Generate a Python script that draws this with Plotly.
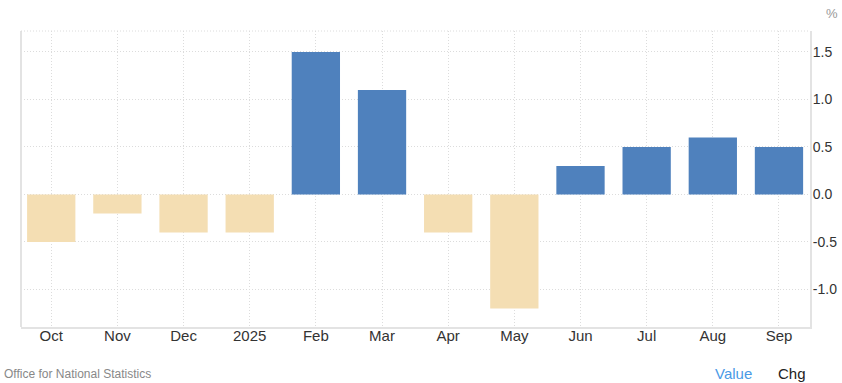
import plotly.graph_objects as go

categories = ["Oct", "Nov", "Dec", "2025", "Feb", "Mar", "Apr", "May", "Jun", "Jul", "Aug", "Sep"]
values = [-0.5, -0.2, -0.4, -0.4, 1.5, 1.1, -0.4, -1.2, 0.3, 0.5, 0.6, 0.5]
y_ticks = [-1.0, -0.5, 0.0, 0.5, 1.0, 1.5]
y_tick_labels = ["-1.0", "-0.5", "0.0", "0.5", "1.0", "1.5"]

colors = ["#4f81bd" if v >= 0 else "#f4deb3" for v in values]

fig = go.Figure(go.Bar(
    x=categories, y=values, marker=dict(color=colors, line=dict(width=0)),
    hoverinfo="x+y",
))

font = "Liberation Sans, Arial, sans-serif"
grid_dash = "1px,2px"
fig.update_layout(
    width=842, height=383,
    margin=dict(l=21, r=32, t=31, b=56),
    paper_bgcolor="white", plot_bgcolor="white",
    bargap=0.27,
    showlegend=False,
    font=dict(family=font, color="#333333"),
    xaxis=dict(
        type="category", range=[-0.457, 11.469],
        showgrid=True, gridcolor="#dcdcdc", griddash=grid_dash, gridwidth=1,
        showline=True, linecolor="#e3e3e3", linewidth=2, mirror=False,
        ticks="", tickfont=dict(size=15, color="#333333"), zeroline=False,
        automargin=False, ticklabelstandoff=-6,
    ),
    yaxis=dict(
        side="right", range=[-1.395, 1.72], tickvals=y_ticks, ticktext=y_tick_labels,
        showgrid=True, gridcolor="#dcdcdc", griddash=grid_dash, gridwidth=1,
        showline=True, linecolor="#e3e3e3", linewidth=2,
        zeroline=False, ticks="", tickfont=dict(size=14, color="#333333"),
        automargin=False, ticklabelstandoff=-2,
    ),
    shapes=[
        dict(type="line", xref="paper", yref="paper", x0=0, x1=0, y0=0, y1=1,
             line=dict(color="#e3e3e3", width=2)),
        dict(type="line", xref="paper", yref="paper", x0=0, x1=1, y0=1, y1=1,
             line=dict(color="#dcdcdc", width=1, dash=grid_dash)),
    ],
    annotations=[
        dict(text="%", xref="paper", yref="paper", x=1.0, y=1.0, xanchor="left", yanchor="bottom",
             xshift=14, yshift=8, showarrow=False, font=dict(size=13, color="#999999")),
        dict(text="Office for National Statistics", xref="paper", yref="paper", x=0, y=0,
             xanchor="left", yanchor="top", xshift=-19, yshift=-38, showarrow=False,
             font=dict(size=12, color="#888888")),
        dict(text="Value", xref="paper", yref="paper", x=1, y=0, xanchor="left", yanchor="top",
             xshift=-97, yshift=-36, showarrow=False, font=dict(size=15, color="#4a9ae6")),
        dict(text="Chg", xref="paper", yref="paper", x=1, y=0, xanchor="left", yanchor="top",
             xshift=-34, yshift=-36, showarrow=False, font=dict(size=15, color="#222222")),
    ],
)

fig.write_html("out.html", config={"displayModeBar": False},
               post_script="document.body.style.margin='0';")
